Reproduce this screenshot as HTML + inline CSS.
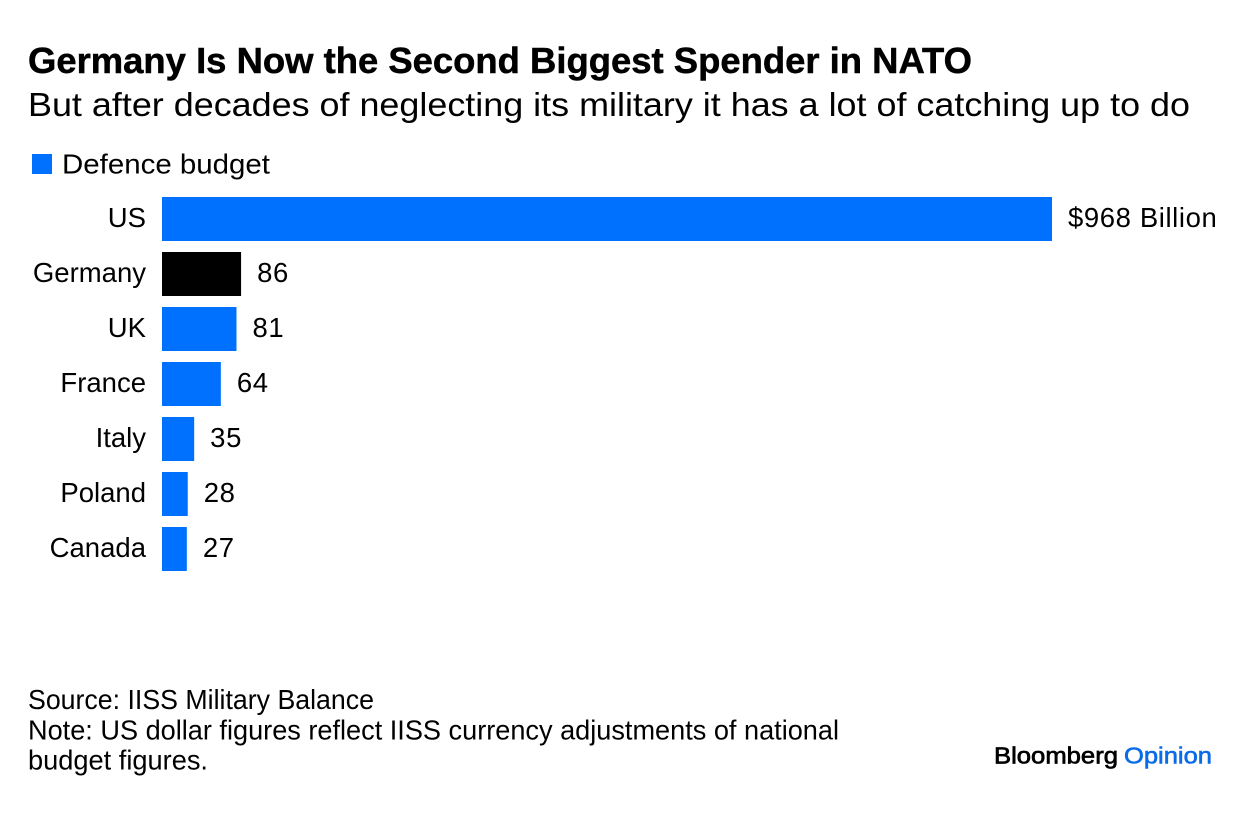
<!DOCTYPE html>
<html lang="en">
<head>
<meta charset="utf-8">
<title>Germany Is Now the Second Biggest Spender in NATO</title>
<style>
html,body{margin:0;padding:0;background:#fff;width:1240px;height:816px;overflow:hidden}
svg{display:block}
text{font-family:"Liberation Sans",Arial,sans-serif;fill:#000}
</style>
</head>
<body>
<svg id="chart" width="1240" height="816" viewBox="0 0 1240 816" xmlns="http://www.w3.org/2000/svg">
  <rect width="1240" height="816" fill="#fff"/>
  <text x="28" y="73" font-size="36" font-weight="700" stroke="#000" stroke-width="0.5" textLength="944" lengthAdjust="spacingAndGlyphs">Germany Is Now the Second Biggest Spender in NATO</text>
  <text x="28" y="116" font-size="33" textLength="1162" lengthAdjust="spacingAndGlyphs">But after decades of neglecting its military it has a lot of catching up to do</text>
  <rect x="32" y="154" width="20" height="20" fill="#0070ff"/>
  <text x="62" y="173.5" font-size="27.5" textLength="208" lengthAdjust="spacingAndGlyphs">Defence budget</text>
  <g id="bars"></g>
  <text x="28" y="709" font-size="27.5" textLength="346" lengthAdjust="spacingAndGlyphs">Source: IISS Military Balance</text>
  <text x="28" y="739.5" font-size="27.5" textLength="811" lengthAdjust="spacingAndGlyphs">Note: US dollar figures reflect IISS currency adjustments of national</text>
  <text x="28" y="769.5" font-size="27.5" textLength="180" lengthAdjust="spacingAndGlyphs">budget figures.</text>
  <text x="994" y="763.5" font-size="23.5" stroke="#000" stroke-width="0.7" textLength="124" lengthAdjust="spacingAndGlyphs">Bloomberg</text>
  <text x="1124" y="763.5" font-size="23.5" stroke="#0a6be8" stroke-width="0.6" style="fill:#0a6be8" textLength="88" lengthAdjust="spacingAndGlyphs">Opinion</text>
</svg>
<script>
const categories = ["US", "Germany", "UK", "France", "Italy", "Poland", "Canada"];
const budgets = [968, 86, 81, 64, 35, 28, 27];
const valueLabels = ["$968 Billion", "86", "81", "64", "35", "28", "27"];
const barColors = ["#0070ff", "#000000", "#0070ff", "#0070ff", "#0070ff", "#0070ff", "#0070ff"];

function xScale(v) { return 162 + v * (890 / 968); }
function yScale(i) { return 197 + i * 55; }

const NS = "http://www.w3.org/2000/svg";
const group = document.getElementById("bars");
categories.forEach(function (cat, i) {
  const slug = cat.toLowerCase();
  const rowY = yScale(i);
  const end = xScale(budgets[i]);

  const label = document.createElementNS(NS, "text");
  
  
  label.setAttribute("x", 146);
  label.setAttribute("y", rowY + 30);
  label.setAttribute("text-anchor", "end");
  label.setAttribute("font-size", "27.5");
  label.textContent = cat;
  group.appendChild(label);

  const bar = document.createElementNS(NS, "rect");
  
  
  bar.setAttribute("x", xScale(0));
  bar.setAttribute("y", rowY);
  bar.setAttribute("width", end - xScale(0));
  bar.setAttribute("height", 44);
  bar.setAttribute("fill", barColors[i]);
  group.appendChild(bar);

  const value = document.createElementNS(NS, "text");
  
  
  value.setAttribute("x", end + 16);
  value.setAttribute("y", rowY + 30);
  value.setAttribute("font-size", "27.5");
  value.setAttribute("letter-spacing", "0.6");
  value.textContent = valueLabels[i];
  group.appendChild(value);
});
</script>
</body>
</html>
